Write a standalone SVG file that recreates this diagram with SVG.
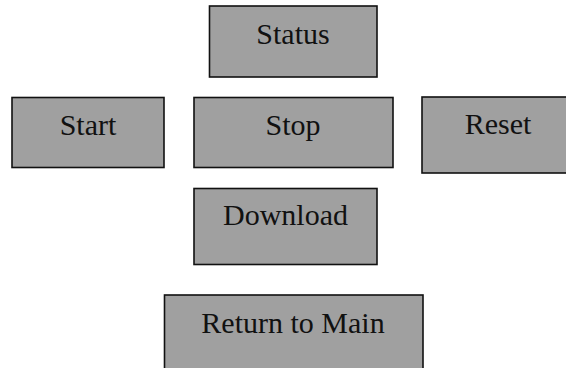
<svg xmlns="http://www.w3.org/2000/svg" width="566" height="368" viewBox="0 0 566 368">
<style>
.box{fill:#a0a0a0;stroke:#111;stroke-width:1.6}
.lbl{font-family:"Liberation Serif","Times New Roman",serif;font-size:30px;fill:#111;text-anchor:middle}
</style>
<rect width="566" height="368" fill="#fff"/>
<g id="status"><rect class="box" x="209.5" y="6" width="167.5" height="71"/><text class="lbl" x="293" y="44">Status</text></g>
<g id="start"><rect class="box" x="12" y="97.5" width="152" height="70"/><text class="lbl" x="88" y="135">Start</text></g>
<g id="stop"><rect class="box" x="194" y="97.5" width="199" height="70"/><text class="lbl" x="293" y="135">Stop</text></g>
<g id="reset"><rect class="box" x="422" y="97" width="152" height="76"/><text class="lbl" x="498" y="134">Reset</text></g>
<g id="download"><rect class="box" x="194" y="188.5" width="183" height="76"/><text class="lbl" x="285.5" y="225">Download</text></g>
<g id="return"><rect class="box" x="164.5" y="295" width="258.5" height="80"/><text class="lbl" x="293" y="333">Return to Main</text></g>
<g id="connectors"></g>
</svg>
